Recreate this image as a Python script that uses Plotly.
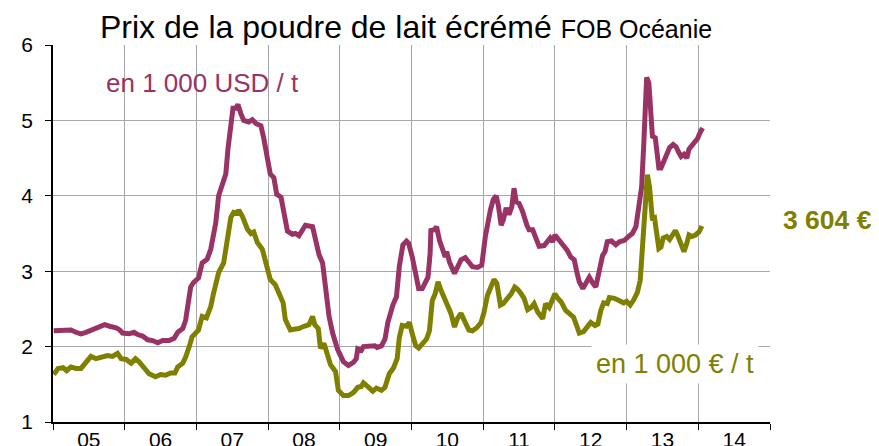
import plotly.graph_objects as go

# ---- data ----
usd_t = [2005.01, 2005.14, 2005.25, 2005.32, 2005.39, 2005.46, 2005.56, 2005.65, 2005.72, 2005.79,
         2005.88, 2005.93, 2005.97, 2006.06, 2006.13, 2006.18, 2006.25, 2006.32, 2006.39, 2006.46,
         2006.53, 2006.62, 2006.69, 2006.74, 2006.81, 2006.85, 2006.89, 2006.92, 2006.96, 2007.03,
         2007.08, 2007.15, 2007.20, 2007.27, 2007.31, 2007.36, 2007.41, 2007.44, 2007.48, 2007.51,
         2007.55, 2007.58, 2007.62, 2007.66, 2007.73, 2007.78, 2007.83, 2007.90, 2007.94, 2007.99,
         2008.03, 2008.08, 2008.12, 2008.18, 2008.22, 2008.27, 2008.34, 2008.38, 2008.43, 2008.48,
         2008.52, 2008.62, 2008.66, 2008.71, 2008.76, 2008.80, 2008.85, 2008.90, 2008.97, 2009.05,
         2009.12, 2009.19, 2009.23, 2009.25, 2009.30, 2009.33, 2009.42, 2009.49, 2009.52, 2009.58,
         2009.63, 2009.67, 2009.74, 2009.79, 2009.83, 2009.88, 2009.93, 2009.96, 2010.01, 2010.06,
         2010.10, 2010.15, 2010.18, 2010.23, 2010.26, 2010.27, 2010.32, 2010.35, 2010.39, 2010.44,
         2010.47, 2010.49, 2010.53, 2010.60, 2010.64, 2010.69, 2010.75, 2010.81, 2010.85, 2010.92,
         2010.98, 2011.03, 2011.07, 2011.10, 2011.14, 2011.18, 2011.21, 2011.25, 2011.28, 2011.32,
         2011.36, 2011.40, 2011.43, 2011.46, 2011.50, 2011.55, 2011.61, 2011.64, 2011.69, 2011.74,
         2011.78, 2011.85, 2011.90, 2011.935, 2011.97, 2012.00, 2012.06, 2012.11, 2012.17, 2012.22,
         2012.27, 2012.31, 2012.34, 2012.39, 2012.43, 2012.48, 2012.53, 2012.57, 2012.62, 2012.665,
         2012.70, 2012.73, 2012.79, 2012.85, 2012.90, 2012.97, 2013.04, 2013.08, 2013.13, 2013.18,
         2013.21, 2013.24, 2013.26, 2013.28, 2013.31, 2013.34, 2013.36, 2013.40, 2013.42, 2013.45,
         2013.48, 2013.53, 2013.57, 2013.60, 2013.65, 2013.69, 2013.73, 2013.76, 2013.80, 2013.84,
         2013.87, 2013.91, 2013.94, 2013.99, 2014.02, 2014.06]
usd_v = [2.21, 2.22, 2.22, 2.19, 2.17, 2.19, 2.23, 2.27, 2.29, 2.27,
         2.25, 2.22, 2.18, 2.17, 2.19, 2.16, 2.14, 2.09, 2.08, 2.05,
         2.08, 2.08, 2.11, 2.19, 2.24, 2.35, 2.57, 2.79, 2.85, 2.91,
         3.11, 3.16, 3.29, 3.64, 4.00, 4.13, 4.29, 4.62, 4.98, 5.16,
         5.16, 5.21, 5.09, 5.00, 4.98, 5.01, 4.96, 4.93, 4.76, 4.49,
         4.29, 4.24, 4.02, 3.98, 3.78, 3.53, 3.49, 3.50, 3.47, 3.56,
         3.61, 3.59, 3.42, 3.22, 3.11, 2.80, 2.40, 2.18, 1.96, 1.80,
         1.75, 1.79, 1.84, 1.97, 1.95, 2.00, 2.00, 2.01, 1.99, 2.01,
         2.10, 2.32, 2.55, 2.66, 3.06, 3.35, 3.40, 3.37, 3.19, 2.92,
         2.77, 2.77, 2.84, 2.92, 3.24, 3.54, 3.55, 3.59, 3.41, 3.24,
         3.19, 3.26, 3.12, 2.97, 3.04, 3.15, 3.18, 3.12, 3.06, 3.05,
         3.08, 3.46, 3.70, 3.81, 3.95, 4.00, 3.88, 3.61, 3.68, 3.84,
         3.75, 3.86, 4.10, 3.92, 3.90, 3.79, 3.61, 3.55, 3.55, 3.41,
         3.33, 3.34, 3.41, 3.44, 3.39, 3.48, 3.41, 3.35, 3.28, 3.19,
         3.15, 2.97, 2.86, 2.77, 2.84, 2.92, 2.84, 2.79, 3.01, 3.21,
         3.26, 3.39, 3.40, 3.35, 3.39, 3.41, 3.47, 3.50, 3.59, 3.90,
         4.12, 4.70, 5.37, 5.57, 5.50, 5.15, 4.79, 4.77, 4.57, 4.37,
         4.37, 4.50, 4.57, 4.64, 4.68, 4.65, 4.57, 4.52, 4.55, 4.50,
         4.62, 4.66, 4.71, 4.76, 4.83, 4.90]

eur_t = [2005.01, 2005.07, 2005.14, 2005.19, 2005.25, 2005.32, 2005.39, 2005.46, 2005.53, 2005.60,
         2005.69, 2005.76, 2005.83, 2005.90, 2005.95, 2006.02, 2006.09, 2006.15, 2006.20, 2006.27,
         2006.34, 2006.43, 2006.50, 2006.57, 2006.64, 2006.70, 2006.74, 2006.81, 2006.85, 2006.90,
         2006.94, 2007.03, 2007.08, 2007.14, 2007.20, 2007.24, 2007.31, 2007.38, 2007.43, 2007.48,
         2007.52, 2007.57, 2007.59, 2007.64, 2007.71, 2007.76, 2007.80, 2007.85, 2007.92, 2007.97,
         2008.03, 2008.10, 2008.17, 2008.21, 2008.24, 2008.31, 2008.36, 2008.43, 2008.50, 2008.57,
         2008.62, 2008.65, 2008.70, 2008.73, 2008.78, 2008.83, 2008.87, 2008.94, 2008.98, 2009.05,
         2009.12, 2009.19, 2009.25, 2009.30, 2009.33, 2009.39, 2009.46, 2009.51, 2009.58, 2009.63,
         2009.69, 2009.75, 2009.80, 2009.83, 2009.87, 2009.93, 2009.97, 2010.01, 2010.06, 2010.10,
         2010.16, 2010.21, 2010.25, 2010.29, 2010.33, 2010.37, 2010.41, 2010.46, 2010.50, 2010.55,
         2010.60, 2010.64, 2010.69, 2010.75, 2010.80, 2010.85, 2010.91, 2010.97, 2011.01, 2011.06,
         2011.11, 2011.15, 2011.19, 2011.24, 2011.28, 2011.34, 2011.39, 2011.44, 2011.48, 2011.53,
         2011.57, 2011.62, 2011.67, 2011.71, 2011.76, 2011.83, 2011.87, 2011.92, 2011.97, 2012.00,
         2012.04, 2012.09, 2012.15, 2012.21, 2012.26, 2012.31, 2012.34, 2012.40, 2012.46, 2012.50,
         2012.56, 2012.60, 2012.64, 2012.68, 2012.73, 2012.76, 2012.83, 2012.90, 2012.96, 2013.00,
         2013.05, 2013.10, 2013.15, 2013.19, 2013.21, 2013.25, 2013.27, 2013.29, 2013.32, 2013.34,
         2013.36, 2013.39, 2013.41, 2013.45, 2013.48, 2013.51, 2013.56, 2013.60, 2013.64, 2013.68,
         2013.71, 2013.76, 2013.80, 2013.84, 2013.87, 2013.91, 2013.96, 2014.01, 2014.05]
eur_v = [1.63, 1.71, 1.72, 1.68, 1.73, 1.71, 1.71, 1.80, 1.87, 1.84,
         1.87, 1.88, 1.87, 1.91, 1.84, 1.83, 1.78, 1.84, 1.80, 1.73,
         1.64, 1.60, 1.63, 1.62, 1.65, 1.65, 1.73, 1.78, 1.86, 2.00,
         2.13, 2.22, 2.40, 2.38, 2.53, 2.71, 2.98, 3.11, 3.38, 3.71,
         3.78, 3.77, 3.81, 3.73, 3.56, 3.50, 3.52, 3.38, 3.29, 3.11,
         2.89, 2.82, 2.69, 2.58, 2.36, 2.22, 2.23, 2.24, 2.27, 2.29,
         2.40, 2.29, 2.24, 1.98, 2.04, 1.87, 1.76, 1.67, 1.42, 1.35,
         1.35, 1.39, 1.46, 1.47, 1.52, 1.47, 1.41, 1.45, 1.42, 1.46,
         1.64, 1.72, 1.84, 2.12, 2.28, 2.27, 2.32, 2.17, 2.01, 1.98,
         2.04, 2.10, 2.21, 2.61, 2.70, 2.86, 2.75, 2.64, 2.59, 2.44,
         2.26, 2.37, 2.44, 2.30, 2.22, 2.21, 2.25, 2.32, 2.45, 2.68,
         2.81, 2.89, 2.84, 2.55, 2.57, 2.64, 2.70, 2.79, 2.76, 2.70,
         2.64, 2.49, 2.52, 2.57, 2.46, 2.37, 2.57, 2.52, 2.64, 2.70,
         2.64, 2.59, 2.48, 2.44, 2.39, 2.26, 2.18, 2.20, 2.26, 2.32,
         2.28, 2.30, 2.48, 2.58, 2.57, 2.65, 2.64, 2.60, 2.58, 2.60,
         2.55, 2.62, 2.72, 2.88, 3.15, 3.59, 4.08, 4.28, 4.12, 3.81,
         3.68, 3.70, 3.55, 3.30, 3.32, 3.44, 3.46, 3.42, 3.48, 3.54,
         3.48, 3.35, 3.26, 3.37, 3.48, 3.46, 3.48, 3.52, 3.60]

year_bounds = list(range(2005, 2016))
year_labels = ["05", "06", "07", "08", "09", "10", "11", "12", "13", "14"]
y_ticks = [1, 2, 3, 4, 5, 6]

last_eur_label = "3 604 €"

PURPLE = "#993366"
OLIVE = "#808000"
GRID = "#a8a8a8"
FONT = "Liberation Sans, Arial, sans-serif"

# the page body adds an 8 px offset, so the figure is 8 px smaller and shifted
OFF = 8
W, H = 879 - OFF, 446 - OFF
PL, PT, PW, PH = 53 - OFF, 45 - OFF, 717, 377


def px_x(x):  # page pixel -> paper fraction
    return (x - OFF - PL) / PW


def px_y(y):
    return (PT + PH - (y - OFF)) / PH


fig = go.Figure()
fig.add_trace(go.Scatter(x=usd_t, y=usd_v, mode="lines",
                         line=dict(color=PURPLE, width=5), showlegend=False))
fig.add_trace(go.Scatter(x=eur_t, y=eur_v, mode="lines",
                         line=dict(color=OLIVE, width=5), showlegend=False))
# invisible trace to activate the label axis
fig.add_trace(go.Scatter(x=[year_bounds[0]], y=[1], xaxis="x2", mode="markers",
                         marker=dict(opacity=0), showlegend=False, hoverinfo="skip"))

mid_years = [b + 0.5 for b in year_bounds[:-1]]

fig.update_layout(
    width=W, height=H,
    margin=dict(l=PL, r=W - PL - PW, t=PT, b=H - PT - PH, autoexpand=False),
    plot_bgcolor="white", paper_bgcolor="white",
    font=dict(family=FONT, color="black"),
    xaxis=dict(range=[2005, 2015], tickvals=year_bounds, ticktext=[""] * len(year_bounds),
               ticks="outside", ticklen=6, tickcolor="black", tickwidth=1,
               showgrid=True, gridcolor=GRID, gridwidth=1, automargin=False,
               showline=True, linecolor="black", linewidth=1.5, zeroline=False),
    xaxis2=dict(range=[2005, 2015], overlaying="x", anchor="y", side="bottom",
                tickvals=mid_years, ticktext=year_labels, ticks="",
                ticklabelstandoff=3, automargin=False,
                showgrid=False, showline=False, zeroline=False,
                tickfont=dict(size=21, family=FONT, color="black")),
    yaxis=dict(range=[1, 6], tickvals=y_ticks, ticks="outside", ticklen=6,
               tickcolor="black", showgrid=True, gridcolor=GRID, gridwidth=1,
               showline=True, linecolor="black", linewidth=1.5, zeroline=False,
               automargin=False, ticklabelstandoff=8,
               tickfont=dict(size=21, family=FONT, color="black")),
)

annotations = []
annotations.append(dict(
    text="Prix de la poudre de lait écrémé <span style='font-size:25px'>FOB Océanie</span>",
    xref="paper", yref="paper", x=px_x(406), y=px_y(27),
    xanchor="center", yanchor="middle", showarrow=False,
    font=dict(size=32, family=FONT, color="black")))
annotations.append(dict(
    text="en 1 000 USD / t", xref="paper", yref="paper",
    x=px_x(104), y=px_y(83), xanchor="left", yanchor="middle",
    showarrow=False, font=dict(size=26, family=FONT, color=PURPLE)))
annotations.append(dict(
    text="en 1 000 € / t", xref="paper", yref="paper",
    x=px_x(591), y=px_y(364), xanchor="left", yanchor="middle",
    showarrow=False, bgcolor="white", borderpad=4,
    font=dict(size=27, family=FONT, color=OLIVE)))
annotations.append(dict(
    text="<b>" + last_eur_label + "</b>", xref="paper", yref="paper",
    x=px_x(781), y=px_y(220), xanchor="left", yanchor="middle",
    showarrow=False, font=dict(size=26.5, family=FONT, color=OLIVE)))
fig.update_layout(annotations=annotations)

fig.write_html("out.html")
